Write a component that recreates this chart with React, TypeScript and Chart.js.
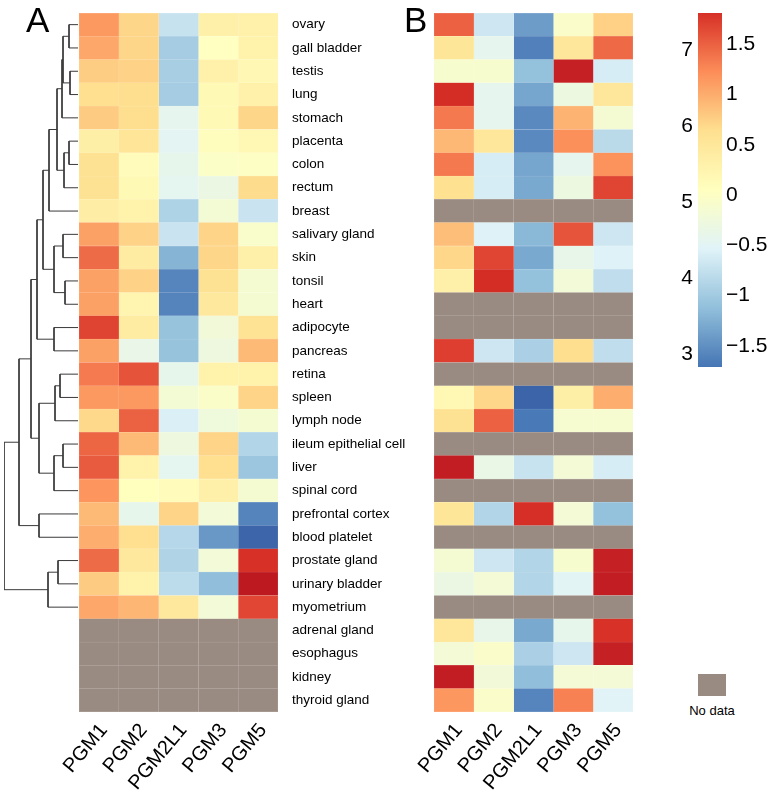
import React, { useEffect, useRef } from "react";
import { Chart, registerables } from "chart.js";

Chart.register(...registerables);

const FONT = "'Liberation Sans', Arial, Helvetica, sans-serif";

// ---------- data ----------
const rowLabels = [
  "ovary", "gall bladder", "testis", "lung", "stomach", "placenta", "colon", "rectum",
  "breast", "salivary gland", "skin", "tonsil", "heart", "adipocyte", "pancreas", "retina",
  "spleen", "lymph node", "ileum epithelial cell", "liver", "spinal cord", "prefrontal cortex",
  "blood platelet", "prostate gland", "urinary bladder", "myometrium", "adrenal gland",
  "esophagus", "kidney", "thyroid gland",
];
const colLabels = ["PGM1", "PGM2", "PGM2L1", "PGM3", "PGM5"];

// Panel A (expression scale 3..7), null = no data
const aPGM1 = [6.60, 6.47, 6.11, 5.93, 6.13, 5.57, 5.89, 5.89, 5.60, 6.53, 7.00, 6.53, 6.53, 7.33, 6.53, 6.87, 6.60, 6.00, 7.04, 7.13, 6.64, 6.29, 6.40, 7.00, 6.13, 6.47, null, null, null, null];
const aPGM2 = [6.03, 6.03, 6.07, 5.95, 5.95, 5.80, 5.23, 5.31, 5.47, 6.07, 5.64, 6.07, 5.40, 5.64, 4.60, 7.20, 6.60, 7.07, 6.29, 5.49, 5.17, 4.56, 5.93, 5.73, 5.49, 6.33, null, null, null, null];
const aPGM2L1 = [4.13, 3.80, 3.83, 3.80, 4.53, 4.47, 4.56, 4.51, 3.89, 4.16, 3.49, 3.00, 2.99, 3.67, 3.67, 4.56, 4.87, 4.33, 4.73, 4.51, 5.23, 6.05, 3.97, 3.91, 4.03, 5.73, null, null, null, null];
const aPGM3 = [5.53, 5.13, 5.51, 5.31, 5.31, 5.20, 5.07, 4.67, 4.87, 6.05, 6.03, 5.89, 5.73, 4.80, 4.73, 5.47, 5.04, 4.77, 6.05, 5.93, 5.53, 4.83, 3.20, 4.83, 3.60, 4.83, null, null, null, null];
const aPGM5 = [5.51, 5.47, 5.36, 5.51, 6.03, 5.33, 5.09, 5.97, 4.16, 5.00, 5.53, 4.91, 4.91, 5.87, 6.29, 5.47, 6.05, 4.91, 3.93, 3.71, 4.91, 2.99, 2.60, 7.49, 7.95, 7.31, null, null, null, null];

// Panel B (relative scale -1.5..1.5), null = no data
const bPGM1 = [1.5, 0.52, -0.1, 1.85, 1.35, 0.92, 1.35, 0.62, null, 0.88, 0.7, 0.33, null, null, 1.72, null, 0.18, 0.6, null, 2.1, null, 0.52, null, -0.15, -0.32, null, 0.5, -0.18, 2.1, 1.15];
const bPGM2 = [-0.68, -0.42, -0.1, -0.42, -0.42, 0.5, -0.6, -0.6, null, -0.55, 1.68, 1.85, null, null, -0.68, null, 0.7, 1.5, null, -0.35, null, -0.88, null, -0.68, -0.18, null, -0.38, -0.05, -0.22, -0.05];
const bPGM2L1 = [-1.4, -1.62, -1.1, -1.33, -1.55, -1.55, -1.33, -1.3, null, -1.18, -1.3, -1.1, null, null, -0.93, null, -1.9, -1.68, null, -0.72, null, 1.83, null, -0.88, -0.88, null, -1.3, -0.93, -1.12, -1.58];
const bPGM3 = [-0.05, 0.5, 2.05, -0.3, 0.95, 1.2, -0.42, -0.3, null, 1.58, -0.38, -0.2, null, null, 0.65, null, 0.35, -0.12, null, -0.18, null, -0.18, null, -0.1, -0.5, null, -0.4, -0.68, -0.18, 1.3];
const bPGM5 = [0.74, 1.45, -0.6, 0.5, -0.15, -0.82, 1.18, 1.68, null, -0.68, -0.55, -0.78, null, null, -0.78, null, 1.0, -0.12, null, -0.6, null, -1.1, null, 2.05, 2.1, null, 1.8, 2.05, -0.18, -0.52];

// Dendrogram (hclust style): negative = leaf row (1-based), positive = merge step (1-based)
const mergeLeft = [-1, -3, 1, 3, -6, 5, 4, 7, -10, -12, 9, -14, 8, 13, -16, 15, -19, 17, 16, 14, -22, 20, -24, 23, 22];
const mergeRight = [-2, -4, 2, -5, -7, -8, 6, -9, -11, -13, 10, -15, 11, 12, -17, -18, -20, -21, 18, 19, -23, 21, -25, -26, 24];
const mergeHeight = [9, 8, 15, 16, 9, 14, 21, 29, 15, 13, 24, 24, 35, 41, 18, 23, 15, 24, 39, 47, 39, 59, 20, 30, 74];

// Colour bar
const colorbarMinA = 2.83;
const colorbarMaxA = 7.49;
const colorbarMinB = -1.71;
const colorbarMaxB = 1.81;
const ticksA = [3, 4, 5, 6, 7];
const ticksB = [-1.5, -1, -0.5, 0, 0.5, 1, 1.5];

// ---------- colours ----------
const NA_COLOR = "#9a8b82";
const PALETTE = ["#4575B4", "#91BFDB", "#E0F3F8", "#FFFFBF", "#FEE090", "#FC8D59", "#D73027"];
const EXT_LOW = "#2f4f9c";
const EXT_HIGH = "#b81420";

function toRgb(h: string): number[] {
  return [parseInt(h.slice(1, 3), 16), parseInt(h.slice(3, 5), 16), parseInt(h.slice(5, 7), 16)];
}
function colorAt(t: number): number[] {
  const cols = [EXT_LOW, ...PALETTE, EXT_HIGH].map(toRgb);
  const pos = [-0.12, 0, 1 / 6, 2 / 6, 3 / 6, 4 / 6, 5 / 6, 1, 1.12];
  const tt = Math.max(pos[0], Math.min(pos[pos.length - 1], t));
  let i = 0;
  while (i < pos.length - 2 && tt > pos[i + 1]) i++;
  const f = (tt - pos[i]) / (pos[i + 1] - pos[i]);
  return cols[i].map((c, k) => Math.round(c + (cols[i + 1][k] - c) * f));
}
const rgbStr = (c: number[]) => `rgb(${c[0]},${c[1]},${c[2]})`;
const mixWhite = (c: number[], f: number) => c.map((v) => Math.round(v + (255 - v) * f));

// layout (page pixels)
const TOP = 13;
const BOTTOM = 712;
const CANVAS_TOP = -30;
const CANVAS_H = 835;
const PAD_TOP = TOP - CANVAS_TOP;
const XAXIS_H = CANVAS_H + CANVAS_TOP - BOTTOM;

function makeHeatmap(canvas: HTMLCanvasElement, cols: (number | null)[][], lo: number, hi: number,
  showRows: boolean, padLeft: number, padRight: number) {
  const datasets = cols.map((vals, c) => {
    const fills = vals.map((v) => (v == null ? toRgb(NA_COLOR) : colorAt((v - lo) / (hi - lo))));
    return {
      label: colLabels[c],
      data: vals.map(() => [c, c + 1]),
      backgroundColor: fills.map(rgbStr),
      borderColor: fills.map((f) => rgbStr(mixWhite(f, 0.3))),
      borderWidth: 0.5,
      borderSkipped: false,
      grouped: false,
      barPercentage: 1,
      categoryPercentage: 1,
    };
  });
  const yScale: any = {
    type: "category", position: "right", display: showRows, offset: true,
    grid: { display: false, drawTicks: false },
    border: { display: false },
    ticks: { autoSkip: false, padding: 14, color: "#000", font: { family: FONT, size: 13.5 } },
  };
  if (showRows) yScale.afterFit = (s: any) => { s.width = 137; };
  return new Chart(canvas, {
    type: "bar",
    data: { labels: rowLabels, datasets: datasets as any },
    options: {
      indexAxis: "y",
      responsive: false,
      animation: false,
      events: [],
      layout: { padding: { left: padLeft, right: padRight, top: PAD_TOP, bottom: 0 } },
      plugins: { legend: { display: false }, tooltip: { enabled: false } },
      scales: {
        x: {
          type: "linear", min: 0, max: 5, position: "bottom",
          afterBuildTicks: (s: any) => { s.ticks = colLabels.map((_, i) => ({ value: i + 0.5 })); },
          afterFit: (s: any) => { s.height = XAXIS_H; },
          grid: { display: false, drawTicks: false },
          border: { display: false },
          ticks: {
            autoSkip: false, minRotation: 50, maxRotation: 50, padding: 7, labelOffset: 5, color: "#000",
            font: { family: FONT, size: 20 },
            callback: (_v: any, i: number) => colLabels[i],
          },
        },
        y: yScale,
      },
    } as any,
  });
}

function makeDendrogram(canvas: HTMLCanvasElement) {
  const nodeY: number[] = [];
  const nodeH: number[] = [];
  const pos = (ref: number) => (ref < 0 ? { y: -ref - 1, h: 0 } : { y: nodeY[ref - 1], h: nodeH[ref - 1] });
  const datasets = mergeLeft.map((l, i) => {
    const a = pos(l);
    const b = pos(mergeRight[i]);
    const h = mergeHeight[i];
    nodeY[i] = (a.y + b.y) / 2;
    nodeH[i] = h;
    return {
      data: [{ x: a.h, y: a.y }, { x: h, y: a.y }, { x: h, y: b.y }, { x: b.h, y: b.y }],
      showLine: true, borderColor: "#3a3a3a", borderWidth: 1, pointRadius: 0, fill: false, tension: 0,
    };
  });
  return new Chart(canvas, {
    type: "scatter",
    data: { datasets: datasets as any },
    options: {
      responsive: false, animation: false, events: [],
      layout: { padding: { left: 4, right: 2, top: PAD_TOP, bottom: XAXIS_H } },
      plugins: { legend: { display: false }, tooltip: { enabled: false } },
      scales: {
        x: { type: "linear", reverse: true, min: 0, max: 74, display: false },
        y: { type: "linear", reverse: true, min: -0.5, max: rowLabels.length - 0.5, display: false },
      },
    } as any,
  });
}

function makeColorbar(canvas: HTMLCanvasElement) {
  const fmt = (v: number) => (v < 0 ? "\u2212" + Math.abs(v) : String(v));
  return new Chart(canvas, {
    type: "bar",
    data: {
      labels: [""],
      datasets: [{
        data: [[colorbarMinB, colorbarMaxB]],
        yAxisID: "yB",
        borderWidth: 0,
        barPercentage: 1,
        categoryPercentage: 1,
        backgroundColor: (ctx: any) => {
          const ch = ctx.chart;
          if (!ch.chartArea) return PALETTE[3];
          const y0 = ch.scales.yB.getPixelForValue(colorbarMinB);
          const y1 = ch.scales.yB.getPixelForValue(colorbarMaxB);
          const g = ch.ctx.createLinearGradient(0, y0, 0, y1);
          PALETTE.forEach((c, i) => g.addColorStop(i / (PALETTE.length - 1), c));
          return g;
        },
      }] as any,
    },
    options: {
      responsive: false, animation: false, events: [],
      layout: { padding: { left: 0, right: 0, top: 43, bottom: 43 } },
      plugins: { legend: { display: false }, tooltip: { enabled: false } },
      scales: {
        x: { type: "category", display: false },
        yA: {
          type: "linear", position: "left", min: colorbarMinA, max: colorbarMaxA,
          afterBuildTicks: (s: any) => { s.ticks = ticksA.map((v) => ({ value: v })); },
          afterFit: (s: any) => { s.width = 58; },
          grid: { display: false, drawTicks: false }, border: { display: false },
          ticks: { padding: 5, color: "#000", font: { family: FONT, size: 21 }, callback: (v: any) => String(v) },
        },
        yB: {
          type: "linear", position: "right", min: colorbarMinB, max: colorbarMaxB,
          afterBuildTicks: (s: any) => { s.ticks = ticksB.map((v) => ({ value: v })); },
          afterFit: (s: any) => { s.width = 52; },
          grid: { display: false, drawTicks: false }, border: { display: false },
          ticks: { padding: 4, color: "#000", font: { family: FONT, size: 21 }, callback: (v: any) => fmt(v) },
        },
      },
    } as any,
  });
}

export default function App() {
  const dendroRef = useRef<HTMLCanvasElement>(null);
  const aRef = useRef<HTMLCanvasElement>(null);
  const bRef = useRef<HTMLCanvasElement>(null);
  const cbRef = useRef<HTMLCanvasElement>(null);

  useEffect(() => {
    const charts: Chart[] = [];
    if (aRef.current) charts.push(makeHeatmap(aRef.current, [aPGM1, aPGM2, aPGM2L1, aPGM3, aPGM5], colorbarMinA, colorbarMaxA, true, 79, 0));
    if (bRef.current) charts.push(makeHeatmap(bRef.current, [bPGM1, bPGM2, bPGM2L1, bPGM3, bPGM5], colorbarMinB, colorbarMaxB, false, 54, 20));
    if (dendroRef.current) charts.push(makeDendrogram(dendroRef.current));
    if (cbRef.current) charts.push(makeColorbar(cbRef.current));
    return () => charts.forEach((c) => c.destroy());
  }, []);

  const abs = (l: number, t: number): React.CSSProperties => ({ position: "absolute", left: l, top: t });

  return (
    <div style={{ position: "absolute", left: 0, top: 0, width: 774, height: 805, overflow: "hidden", background: "#fff", fontFamily: FONT }}>
      <canvas ref={aRef} width={415} height={CANVAS_H} style={abs(0, CANVAS_TOP)} />
      <canvas ref={bRef} width={273} height={CANVAS_H} style={abs(380, CANVAS_TOP)} />
      <canvas ref={dendroRef} width={80} height={CANVAS_H} style={abs(0, CANVAS_TOP)} />
      <canvas ref={cbRef} width={134} height={440} style={abs(640, CANVAS_TOP)} />
      <div style={{ ...abs(26, 0), fontSize: 35, lineHeight: "40px", color: "#000" }}>A</div>
      <div style={{ ...abs(404, 0), fontSize: 35, lineHeight: "40px", color: "#000" }}>B</div>
      <div style={{ ...abs(698, 674), width: 28, height: 22, background: NA_COLOR }} />
      <div style={{ ...abs(662, 703), width: 100, textAlign: "center", fontSize: 13, lineHeight: "16px", color: "#000" }}>No data</div>
    </div>
  );
}
